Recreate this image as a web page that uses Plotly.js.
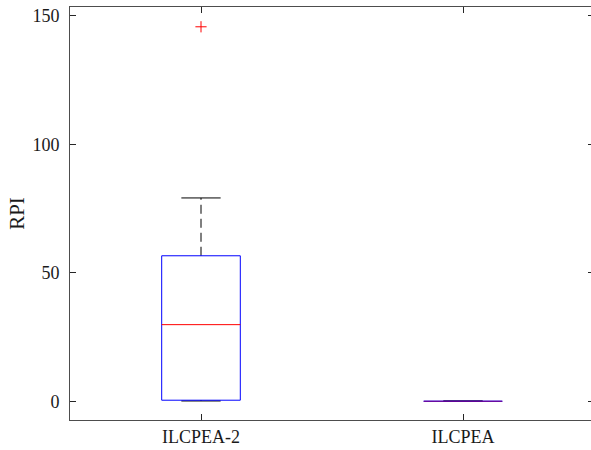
<!DOCTYPE html>
<html>
<head>
<meta charset="utf-8">
<script src="https://cdn.plot.ly/plotly-3.0.1.min.js"></script>
<style>
html,body{margin:0;padding:0;overflow:hidden;background:#fff;}
#chart{width:600px;height:450px;}
</style>
</head>
<body>
<div id="chart"></div>
<script>
// ---- data ----
var categories = ['ILCPEA-2', 'ILCPEA'];
var q1 = [0.4, 0.0];
var medians = [29.8, 0.0];
var q3 = [56.6, 0.1];
var lowerWhisker = [0.1, 0.0];
var upperWhisker = [79.1, 0.1];
var outlierCategory = ['ILCPEA-2'];
var outlierValue = [145.7];
var yTicks = [0, 50, 100, 150];

// ---- styling ----
var boxHalf = 0.15, capHalf = 0.075;
var traces = [];
categories.forEach(function (c, i) {
  var x = i + 1;
  // whiskers (dashed)
  traces.push({x: [x, x, null, x, x], y: [q3[i], upperWhisker[i], null, lowerWhisker[i], q1[i]],
    mode: 'lines', line: {color: '#000', width: 1, dash: '9px,5px'}, hoverinfo: 'skip'});
  // caps
  traces.push({x: [x - capHalf, x + capHalf, null, x - capHalf, x + capHalf],
    y: [upperWhisker[i], upperWhisker[i], null, lowerWhisker[i], lowerWhisker[i]],
    mode: 'lines', line: {color: '#000', width: 1}, hoverinfo: 'skip'});
  // box
  traces.push({x: [x - boxHalf, x + boxHalf, x + boxHalf, x - boxHalf, x - boxHalf],
    y: [q1[i], q1[i], q3[i], q3[i], q1[i]],
    mode: 'lines', line: {color: '#0000ff', width: 1}, hoverinfo: 'skip'});
  // median
  var degenerate = (q3[i] - q1[i]) < 0.5;
  traces.push({x: [x - boxHalf, x + boxHalf], y: [medians[i], medians[i]],
    mode: 'lines', line: {color: '#ff0000', width: 1}, opacity: degenerate ? 0.5 : 1, hoverinfo: 'skip'});
});
traces.push({x: outlierCategory.map(function (c) { return categories.indexOf(c) + 1; }), y: outlierValue,
  mode: 'markers', marker: {symbol: 'cross-thin', size: 8, line: {color: '#ff0000', width: 1}}, hoverinfo: 'skip'});

var axisColor = '#4d4d4d';
var layout = {
  width: 600, height: 450,
  margin: {l: 70, r: 6, t: 7, b: 30},
  showlegend: false,
  paper_bgcolor: '#fff', plot_bgcolor: '#fff',
  font: {family: "'Liberation Serif', 'Times New Roman', serif", size: 18, color: '#1a1a1a'},
  xaxis: {
    range: [0.5, 2.5], tickvals: categories.map(function (c, i) { return i + 1; }), ticktext: categories,
    ticks: 'inside', ticklen: 6, tickcolor: '#262626', showline: true, linecolor: axisColor, linewidth: 1,
    mirror: 'ticks', showgrid: false, zeroline: false, tickfont: {size: 18}
  },
  yaxis: {
    range: [-7.3, 153.4], tickvals: yTicks, ticktext: yTicks.map(String),
    ticks: 'inside', ticklen: 6, tickcolor: '#262626', showline: true, linecolor: axisColor, linewidth: 1,
    mirror: 'ticks', showgrid: false, zeroline: false, tickfont: {size: 18}, ticklabelstandoff: 6,
    title: {text: 'RPI', font: {size: 21}, standoff: 2}
  }
};
Plotly.newPlot('chart', traces, layout, {staticPlot: true, displayModeBar: false});
</script>
</body>
</html>
